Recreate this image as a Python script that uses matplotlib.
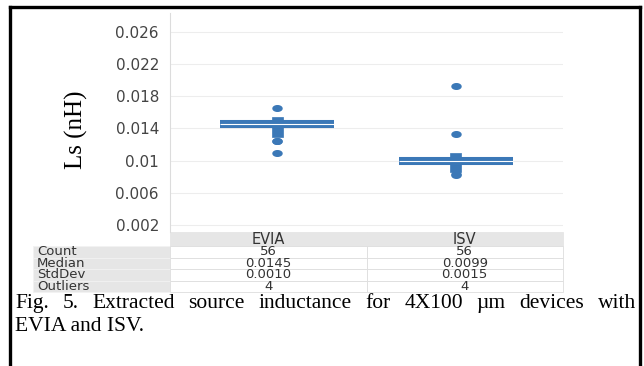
import numpy as np
import matplotlib
matplotlib.use("Agg")
import matplotlib.pyplot as plt
from matplotlib.lines import Line2D
from matplotlib.path import Path

# data
groups = ["EVIA", "ISV"]
q1 = [0.0129, 0.0086]
medians = [0.0145, 0.0099]
q3 = [0.0154, 0.0110]
whislo = [0.0129, 0.0084]
whishi = [0.0154, 0.0110]
outliers = [[0.0165, 0.0124, 0.0124, 0.0109],
            [0.0192, 0.0133, 0.0083, 0.0082]]

row_labels = ["Count", "Median", "StdDev", "Outliers"]
table_vals = [["56", "56"],
              ["0.0145", "0.0099"],
              ["0.0010", "0.0015"],
              ["4", "4"]]

yticks = [0.002, 0.006, 0.01, 0.014, 0.018, 0.022, 0.026]
ytick_labels = ["0.002", "0.006", "0.01", "0.014", "0.018", "0.022", "0.026"]

caption1 = "Fig. 5. Extracted source inductance for 4X100 \u00b5m devices with"
caption2 = "EVIA and ISV."

# figure size in pixels
W, H = 644, 366
blue = "#3b78b7"

fig = plt.figure(figsize=(W / 100, H / 100), dpi=100)

# axes box in pixels (left, top, right, bottom)
ax_l, ax_t, ax_r, ax_b = 170, 13, 563, 232
ax = fig.add_axes([ax_l / W, 1 - ax_b / H, (ax_r - ax_l) / W, (ax_b - ax_t) / H])

# box statistics
stats = []
for i in range(len(groups)):
    stats.append(dict(med=medians[i], q1=q1[i], q3=q3[i],
                      whislo=whislo[i], whishi=whishi[i],
                      fliers=outliers[i], label=groups[i]))

pos = np.arange(len(groups))

# ellipse marker for outliers
t = np.linspace(0, 2 * np.pi, 40)
ell = Path(np.column_stack([np.cos(t), 0.62 * np.sin(t)]), closed=True)

ax.bxp(stats, positions=pos, widths=0.062, patch_artist=True,
       showcaps=False,
       boxprops=dict(facecolor=blue, edgecolor=blue, linewidth=0.5),
       whiskerprops=dict(color=blue, linewidth=1.2),
       medianprops=dict(linewidth=0),
       flierprops=dict(marker=ell, markersize=6.5, markerfacecolor=blue,
                       markeredgecolor=blue, linestyle="none"))

# wide median band (two bars with a white gap)
ax.hlines(medians, pos - 0.32, pos + 0.32, colors=blue, linewidth=5.8, zorder=4)
ax.hlines(medians, pos - 0.32, pos + 0.32, colors="white", linewidth=0.8, zorder=5)

ax.set_xlim(-0.6, 1.6)
ax.set_ylim(0.00115, 0.0283)
ax.set_xticks([])
ax.set_yticks(yticks)
ax.set_yticklabels(ytick_labels, color="#444444", fontsize=11)
ax.tick_params(axis="y", length=0, pad=8)
ax.grid(axis="y", color="#ededed", linewidth=0.8)
ax.set_axisbelow(True)
for s in ["top", "right", "bottom"]:
    ax.spines[s].set_visible(False)
ax.spines["left"].set_color("#dcdcdc")
ax.spines["left"].set_linewidth(0.8)

# statistics table under the plot (row labels as first column)
cells = [[lab] + vals for lab, vals in zip(row_labels, table_vals)]
aw, ah = ax_r - ax_l, ax_b - ax_t
tab_l, tab_b = 33, 292
tab = ax.table(cellText=cells, colLabels=[""] + groups,
               cellLoc="center",
               bbox=[(tab_l - ax_l) / aw, -(tab_b - ax_b) / ah,
                     (ax_r - tab_l) / aw, (tab_b - ax_b) / ah])
tab.auto_set_font_size(False)
tab.set_fontsize(9.5)
for (r, c), cell in tab.get_celld().items():
    cell.set_width(137 if c == 0 else 196.5)
    cell.set_height(14 if r == 0 else 11.5)
    cell.set_linewidth(0.6)
    cell.get_text().set_color("#333333")
    if r == 0 and c == 0:
        cell.set_facecolor("white")
        cell.set_edgecolor("white")
    elif r == 0:
        cell.set_facecolor("#e6e6e6")
        cell.set_edgecolor("#e6e6e6")
        cell.get_text().set_fontsize(10.5)
    elif c == 0:
        cell.set_facecolor("#e6e6e6")
        cell.set_edgecolor("#f2f2f2")
        cell.PAD = 0.03
        cell.get_text().set_horizontalalignment("left")
        cell._loc = "left"
    else:
        cell.set_facecolor("white")
        cell.set_edgecolor("#dddddd")

# y label
fig.text(76 / W, 1 - 130 / H, "Ls (nH)", rotation=90, ha="center", va="center",
         family="Liberation Serif", fontsize=18)

# justified caption
fig.canvas.draw()
renderer = fig.canvas.get_renderer()
cap_fs = 15.5
x_left, x_right = 15, 636
words = caption1.split(" ")
objs = [fig.text(0, 0, w_, family="Liberation Serif", fontsize=cap_fs,
                 va="baseline") for w_ in words]
widths = [o.get_window_extent(renderer).width for o in objs]
gap = (x_right - x_left - sum(widths)) / (len(words) - 1)
x = x_left
for o, w_ in zip(objs, widths):
    o.set_position((x / W, 1 - 308 / H))
    x += w_ + gap
fig.text(x_left / W, 1 - 331 / H, caption2, family="Liberation Serif",
         fontsize=cap_fs, va="baseline")

# frame around the figure panel
lw = 2.4
fig.add_artist(Line2D([10 / W, 640 / W], [1 - 7 / H, 1 - 7 / H],
                      transform=fig.transFigure, color="black", linewidth=lw))
fig.add_artist(Line2D([10 / W, 10 / W], [1 - 7 / H, 0],
                      transform=fig.transFigure, color="black", linewidth=lw))
fig.add_artist(Line2D([640 / W, 640 / W], [1 - 7 / H, 0],
                      transform=fig.transFigure, color="black", linewidth=lw))

fig.savefig("out.png", dpi=100)
